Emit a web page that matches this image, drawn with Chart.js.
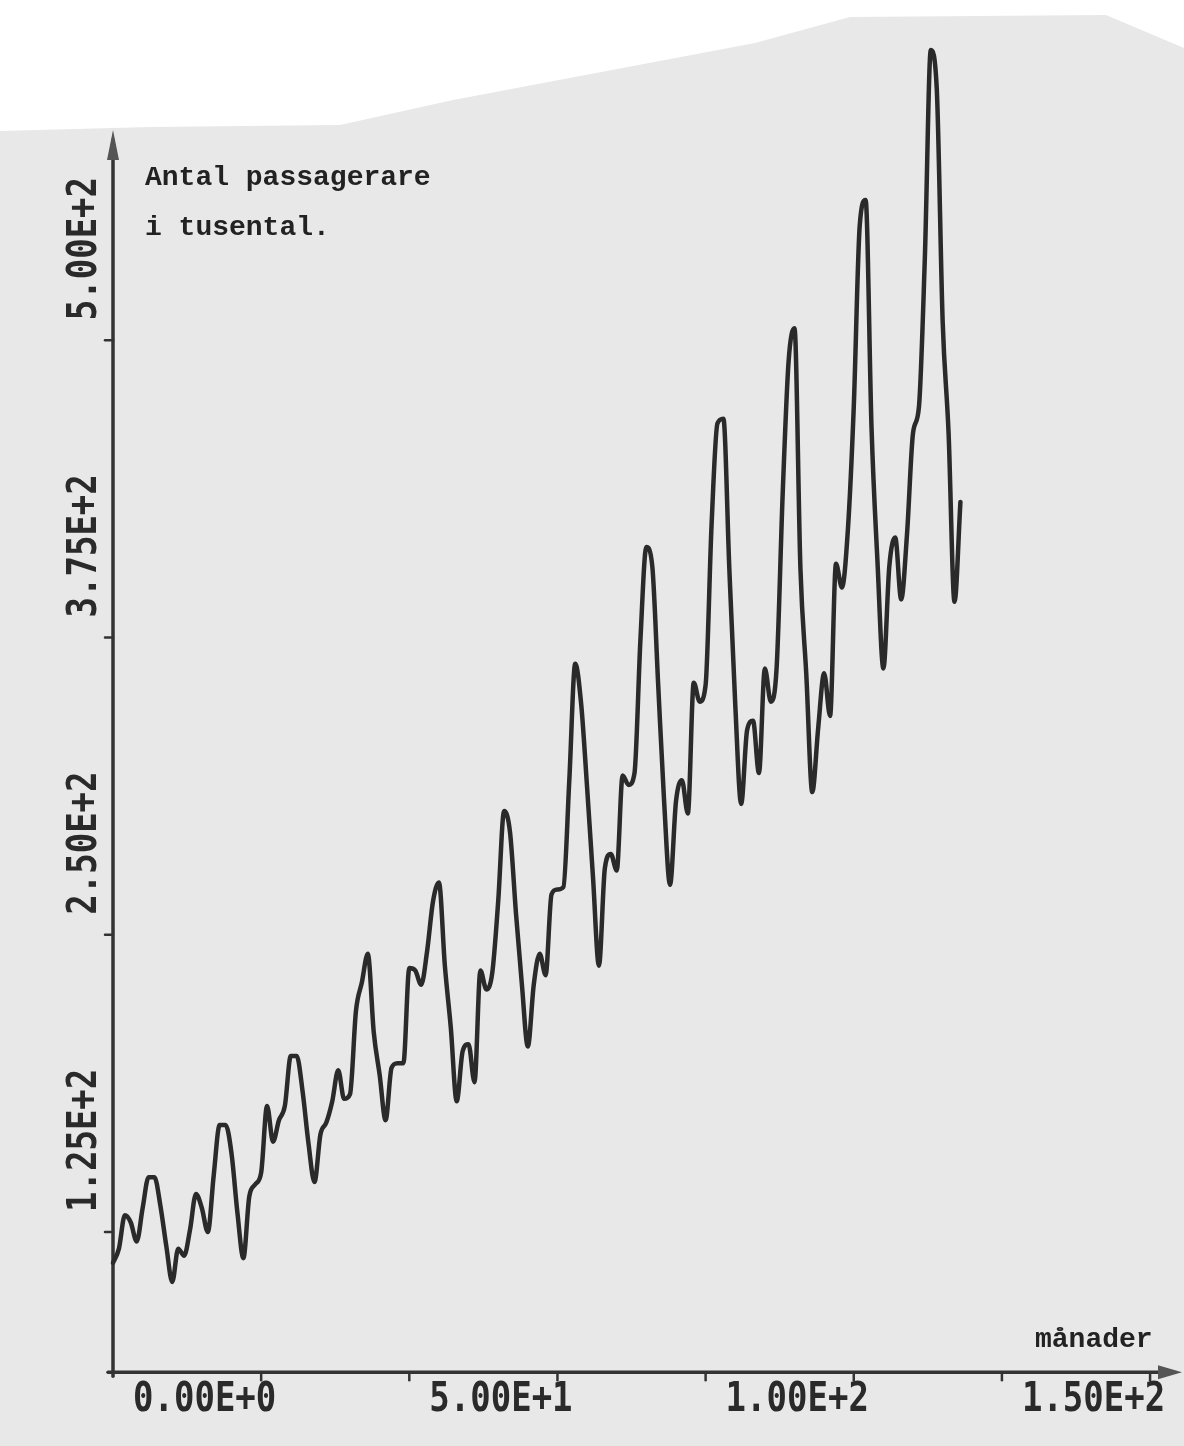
<!DOCTYPE html>
<html>
<head>
<meta charset="utf-8">
<script src="https://cdn.jsdelivr.net/npm/chart.js@4"></script>
<style>
  html, body { margin: 0; padding: 0; background: #e8e8e8; }
  canvas { display: block; }
</style>
</head>
<body>
<canvas id="grafico" width="1184" height="1446"></canvas>
<script>
// Antal passagerare per månad (tusental), 1949-1960
const passagerare = [
  112, 118, 132, 129, 121, 135, 148, 148, 136, 119, 104, 118,
  115, 126, 141, 135, 125, 149, 170, 170, 158, 133, 114, 140,
  145, 150, 178, 163, 172, 178, 199, 199, 184, 162, 146, 166,
  171, 180, 193, 181, 183, 218, 230, 242, 209, 191, 172, 194,
  196, 196, 236, 235, 229, 243, 264, 272, 237, 211, 180, 201,
  204, 188, 235, 227, 234, 264, 302, 293, 259, 229, 203, 229,
  242, 233, 267, 269, 270, 315, 364, 347, 312, 274, 237, 278,
  284, 277, 317, 313, 318, 374, 413, 405, 355, 306, 271, 306,
  315, 301, 356, 348, 355, 422, 465, 467, 404, 347, 305, 336,
  340, 318, 362, 348, 363, 435, 491, 505, 404, 359, 310, 337,
  360, 342, 406, 396, 420, 472, 548, 559, 463, 407, 362, 405,
  417, 391, 419, 461, 472, 535, 622, 606, 508, 461, 390, 432
];
const manader = passagerare.map((v, i) => i);

const xEtiketter = [0, 50, 100, 150];
const xEtikettText = ["0.00E+0", "5.00E+1", "1.00E+2", "1.50E+2"];
const xStreck = [25, 50, 75, 100, 125, 150, 175];
const yEtiketter = [125, 250, 375, 500];
const yEtikettText = ["1.25E+2", "2.50E+2", "3.75E+2", "5.00E+2"];

const rubrik = ["Antal passagerare", "i tusental."];
const xTitel = "månader";

const bläck = "#2a2a2a";

// papper: grått ark, vit kant överst
const papper = {
  id: "papper",
  beforeDraw(chart) {
    const ctx = chart.ctx;
    ctx.save();
    ctx.fillStyle = "#e8e8e8";
    ctx.fillRect(0, 0, chart.width, chart.height);
    ctx.fillStyle = "#ffffff";
    ctx.beginPath();
    ctx.moveTo(0, 0);
    ctx.lineTo(1184, 0);
    ctx.lineTo(1184, 48);
    ctx.lineTo(1106, 15);
    ctx.lineTo(850, 17);
    ctx.lineTo(755, 43);
    ctx.lineTo(453, 100);
    ctx.lineTo(340, 125);
    ctx.lineTo(150, 127);
    ctx.lineTo(0, 131);
    ctx.closePath();
    ctx.fill();
    ctx.restore();
  }
};

// axlar med pilar, streck och etiketter
const axlar = {
  id: "axlar",
  beforeDatasetsDraw(chart) {
    const ctx = chart.ctx;
    const xs = chart.scales.x, ys = chart.scales.y;
    const x0 = xs.getPixelForValue(0);
    const y0 = chart.chartArea.bottom;
    ctx.save();
    ctx.strokeStyle = "#333";
    ctx.fillStyle = "#555";
    ctx.lineWidth = 3.5;
    ctx.lineCap = "round";

    // y-axel
    ctx.beginPath();
    ctx.moveTo(x0, y0 + 4);
    ctx.lineTo(x0, 140);
    ctx.stroke();
    ctx.beginPath();
    ctx.moveTo(x0, 130);
    ctx.lineTo(x0 - 6, 160);
    ctx.lineTo(x0 + 6, 160);
    ctx.closePath();
    ctx.fill();

    // x-axel
    ctx.beginPath();
    ctx.moveTo(x0 - 5, y0);
    ctx.lineTo(1170, y0);
    ctx.stroke();
    ctx.beginPath();
    ctx.moveTo(1182, y0);
    ctx.lineTo(1158, y0 - 7);
    ctx.lineTo(1158, y0 + 7);
    ctx.closePath();
    ctx.fill();

    ctx.lineWidth = 2.5;
    xStreck.forEach(v => {
      const px = xs.getPixelForValue(v);
      ctx.beginPath();
      ctx.moveTo(px, y0);
      ctx.lineTo(px, y0 + 8);
      ctx.stroke();
    });
    yEtiketter.forEach(v => {
      const py = ys.getPixelForValue(v);
      ctx.beginPath();
      ctx.moveTo(x0, py);
      ctx.lineTo(x0 - 8, py);
      ctx.stroke();
    });

    // skalmarkeringar
    ctx.fillStyle = bläck;
    ctx.font = "bold 34px 'DejaVu Sans Mono'";
    ctx.textBaseline = "middle";
    ctx.textAlign = "left";
    xEtiketter.forEach((v, i) => {
      const px = xs.getPixelForValue(v);
      ctx.save();
      ctx.translate(px + 20, 1400);
      ctx.scale(1, 1.2);
      ctx.fillText(xEtikettText[i], 0, 0);
      ctx.restore();
    });
    yEtiketter.forEach((v, i) => {
      const py = ys.getPixelForValue(v);
      ctx.save();
      ctx.translate(85, py - 20);
      ctx.rotate(-Math.PI / 2);
      ctx.scale(1, 1.2);
      ctx.fillText(yEtikettText[i], 0, 0);
      ctx.restore();
    });

    // rubriker
    ctx.font = "bold 28px 'Courier New', 'Liberation Mono', monospace";
    ctx.fillStyle = "#222";
    ctx.fillText(rubrik[0], 145, 178);
    ctx.fillText(rubrik[1], 145, 228);
    ctx.fillText(xTitel, 1035, 1340);
    ctx.restore();
  }
};

new Chart(document.getElementById("grafico").getContext("2d"), {
  type: "line",
  data: {
    datasets: [{
      data: manader.map((m, i) => ({ x: m, y: passagerare[i] })),
      borderColor: bläck,
      borderWidth: 4.5,
      borderJoinStyle: "round",
      borderCapStyle: "round",
      pointRadius: 0,
      cubicInterpolationMode: "monotone",
      clip: false
    }]
  },
  options: {
    responsive: false,
    animation: false,
    layout: { padding: { left: 113, right: 4.3, top: 7.3, bottom: 73.7 } },
    plugins: { legend: { display: false }, tooltip: { enabled: false } },
    scales: {
      x: { type: "linear", min: 0, max: 180, display: false },
      y: { type: "linear", min: 66, max: 640, display: false }
    }
  },
  plugins: [papper, axlar]
});
</script>
</body>
</html>
